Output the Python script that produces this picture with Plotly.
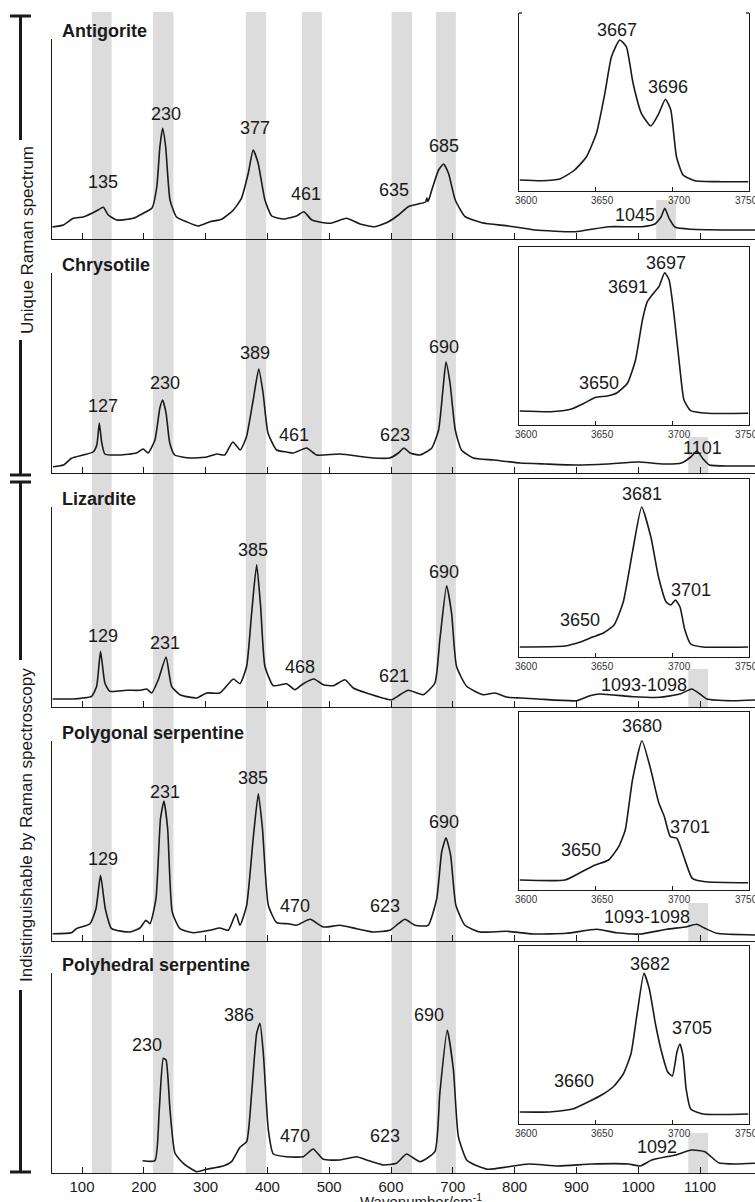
import plotly.graph_objects as go

FIG_W, FIG_H = 755, 1202

# ---------------- data ----------------
wavenumber_ticks = [100, 200, 300, 400, 500, 600, 700, 800, 900, 1000, 1100]
inset_ticks = [3600, 3650, 3700, 3750]
band_ranges = [(116, 148), (215, 248), (365, 398), (456, 488), (601, 634), (673, 705)]

mineral_names = ["Antigorite", "Chrysotile", "Lizardite",
                 "Polygonal serpentine", "Polyhedral serpentine"]

# main spectra (wavenumber, relative intensity)
antigorite_wn = [52, 70, 86, 102, 116, 126, 134.5, 142.6, 156, 183, 199, 213, 221, 226, 230.5, 235.4,
                 242.4, 253, 269, 288, 307, 326, 345, 358, 369, 377, 385, 396, 407, 426, 447, 459,
                 472, 501, 528, 550, 574, 596, 612, 628, 644, 656, 658, 660, 666, 677, 685, 693, 704,
                 720, 747, 790, 833, 898, 952, 1006, 1027, 1037, 1043, 1050, 1060, 1087, 1140, 1189]
antigorite_int = [12, 14, 20.7, 22, 25.7, 29, 31.7, 24, 19, 20.7, 25.7, 30.7, 52, 92, 110.7, 92,
                  39, 22, 17.3, 13, 17.3, 19.7, 29, 40.7, 65.7, 89, 75.7, 39, 23, 20, 23, 27.3,
                  19, 15.7, 20.7, 15, 12.3, 17.3, 24, 32.3, 35, 37, 41, 37.5, 49, 69, 75, 65.7, 39,
                  22.3, 16.3, 13, 9, 7.3, 12.3, 12.3, 15, 22, 30.7, 20.7, 11.7, 9.7, 9, 9]

chrysotile_wn = [53, 70, 83, 102, 118, 124, 128, 132, 137, 161, 188, 199, 207, 218, 226, 230.5, 236,
                 242, 250, 275, 302, 318, 331, 344, 356, 366, 377, 386, 393, 401, 415, 431, 442, 463.5,
                 480, 517, 571, 598, 612, 621, 631, 647, 666, 677, 684, 689, 695.5, 704, 714, 733, 766,
                 809, 850, 900, 950, 1000, 1040, 1070, 1085, 1095, 1105, 1115, 1150, 1189]
chrysotile_int = [6.3, 8, 14.7, 18, 21, 28, 50, 30, 19, 18, 20, 24, 20, 33, 65, 73, 60,
                  30, 18, 15, 16, 19, 18, 31, 23, 36, 73, 104, 80, 40, 23, 21, 20, 25,
                  18, 19, 15, 15, 20, 25, 20, 18, 25, 43, 83, 111, 90, 43, 23, 15, 13,
                  10, 9, 8, 9, 11, 9, 10, 16, 22, 14, 8, 7, 7]

lizardite_wn = [52.5, 86, 102, 115.6, 123.7, 130, 137, 145, 172, 194, 204.6, 212.7, 223.5, 236, 245,
                258.5, 285.5, 301.7, 323, 345, 355.6, 366.4, 374.5, 382.6, 389, 396, 409.6, 431, 444.6,
                458, 475.4, 490.5, 506.7, 525.5, 539, 560.6, 601, 614.5, 628, 652, 671, 679, 690, 698,
                706, 722.4, 749.4, 768, 787, 809, 838, 900.5, 922, 938, 992, 1035, 1067.7, 1086.6,
                1100, 1111, 1154, 1189]
lizardite_int = [8, 8, 9, 10.7, 20.7, 55.7, 24, 15.7, 16.7, 16.7, 18, 14, 27.3, 50, 20.7,
                 12.3, 9, 14, 14, 28, 23.3, 40.7, 94, 142.3, 100.7, 40.7, 21.3, 23.3, 17.3,
                 23.3, 28, 22.3, 21.3, 27.3, 19, 14, 7.3, 12.3, 16.7, 12.3, 24, 67, 121.3, 94,
                 40.7, 20.7, 12.3, 14, 10, 9, 8, 6.3, 11.3, 13, 10.3, 9.7, 13, 18,
                 13, 8, 6.3, 7]

polygonal_wn = [52.5, 83, 91, 113, 122.6, 130, 137.7, 148, 177.6, 193.8, 203.5, 210, 219.7, 227, 232.6,
                238.6, 246, 258.5, 280, 307, 323, 336.8, 349, 355.6, 366.4, 377, 385.3, 392, 401.5,
                415, 434, 447, 469, 490.5, 517.5, 544.4, 571.4, 598, 612, 622.6, 638.8, 660, 674, 682,
                689, 696.5, 705, 719.7, 744, 787, 830, 884, 933, 965, 1003, 1046, 1078.5, 1094.7,
                1108, 1127, 1189]
polygonal_int = [7.3, 8.3, 12.3, 17.3, 32.3, 65.7, 32.3, 12.3, 9, 13, 20.7, 17.3, 42.3, 122.3, 140,
                 112.3, 29, 12.3, 8.3, 10.7, 13, 10.7, 27.3, 15.7, 35.7, 102.3, 147.3, 112.3, 35.7,
                 18.3, 17.3, 15.7, 21.7, 14, 15.7, 12.3, 9, 10.7, 17.3, 21.7, 15.7, 15.7, 42.3, 89,
                 103.3, 85.7, 35.7, 15.7, 9, 9.7, 7, 7.7, 11.7, 8.3, 7, 11.7, 14.3, 16.7,
                 12.7, 7.7, 6]

polyhedral_wn = [198, 218, 225, 231.6, 236, 242.4, 250.5, 264, 285.5, 301.7, 328.7, 342, 355.6, 366.4,
                 374.5, 382.6, 388, 393.4, 401.5, 409.6, 431, 458, 474, 490.5, 517.5, 544.4, 560.6,
                 587.6, 609, 625, 647, 671, 679, 691, 701, 709, 722.4, 736, 757.5, 790, 822, 871, 925,
                 984, 1003, 1022, 1060, 1086.5, 1108, 1130, 1157, 1189]
polyhedral_int = [12.3, 12.3, 63, 114.7, 113, 63, 19.7, 9.7, 1.3, 3.7, 7, 11.3, 25.7, 31.3,
                  79.7, 139.7, 149.7, 119.7, 43, 19, 16.3, 16.3, 24, 13.7, 13, 16.3, 13,
                  8, 9.7, 19, 11.3, 21.3, 79.7, 143, 103, 36.3, 13, 8, 3.7, 6.3, 9, 7, 9,
                  9, 7, 13, 18, 23, 21.3, 10.3, 9, 9.7]

# OH-stretching insets (wavenumber, relative intensity)
antigorite_oh_wn = [3600.5, 3614.6, 3626.6, 3636.3, 3644, 3650.5, 3656, 3660.3, 3665.7, 3670, 3674.4,
                    3679.8, 3686, 3690.7, 3695.5, 3699, 3702.7, 3707, 3714.6, 3732, 3749.5]
antigorite_oh_int = [11, 10.3, 12, 21, 34.3, 57.7, 97.7, 134.3, 151, 144.3, 107.7,
                     77.7, 65, 76, 91.7, 81, 34.3, 16, 10.3, 9.3, 9.3]

chrysotile_oh_wn = [3600.5, 3620.7, 3633.7, 3642.4, 3650, 3657.6, 3664, 3670.7, 3676, 3680.5, 3683.7,
                    3688, 3691.3, 3695, 3697.9, 3701, 3704.8, 3707.6, 3712, 3722.9, 3749.5]
chrysotile_oh_int = [14, 13.3, 15.7, 21.7, 27.7, 29, 32.3, 41.7, 65, 105, 123.3,
                     132.3, 138.3, 152.3, 145, 111.7, 58.3, 25, 14.3, 11.7, 11.7]

lizardite_oh_wn = [3600.5, 3630, 3640, 3648, 3655, 3662, 3668, 3674, 3680, 3686, 3691, 3696, 3699,
                   3702, 3705, 3708, 3712, 3720, 3749.5]
lizardite_oh_int = [10, 11, 15, 20, 24, 32, 55, 105, 150, 120, 80, 55, 52,
                    57, 50, 28, 13, 10, 10]

polygonal_oh_wn = [3600.5, 3630, 3641, 3649.7, 3658.4, 3665, 3669.3, 3674, 3680.2, 3686, 3691, 3694.8,
                   3698.7, 3703, 3707.5, 3713, 3721.6, 3749.5]
polygonal_oh_int = [10, 10, 18.3, 25, 30, 43.3, 60, 110, 149.3, 120, 88, 73.3,
                    53.3, 51.7, 33.3, 11.7, 8.3, 7.3]

polyhedral_oh_wn = [3600.5, 3620, 3635, 3645, 3655, 3662, 3668, 3673, 3677, 3681.5, 3685, 3689, 3693,
                    3697, 3700, 3703, 3705, 3707, 3709, 3712, 3720, 3749.5]
polyhedral_oh_int = [12, 12, 15, 22, 30, 38, 50, 70, 110, 150.7, 135, 100, 72,
                     52, 48, 72, 80, 68, 35, 15, 10, 10]

# peak labels: (text, wavenumber position, height)
antigorite_labels = [("135", 133.7, 56.7), ("230", 235.6, 125), ("377", 380, 111), ("461", 463, 45),
                     ("635", 605, 49), ("685", 685.8, 93.3), ("1045", 995, 24)]
chrysotile_labels = [("127", 133.7, 66.7), ("230", 234.8, 89.7), ("389", 380.5, 119.7),
                     ("461", 443.6, 38.3), ("623", 606, 38.3), ("690", 685.5, 126.3), ("1101", 1104, 25)]
lizardite_labels = [("129", 133.4, 70.7), ("231", 234.8, 64), ("385", 376.4, 156.7), ("468", 452.7, 40),
                    ("621", 605.4, 30.7), ("690", 685.5, 135), ("1093-1098", 1009, 22.3)]
polygonal_labels = [("129", 133.4, 81.7), ("231", 234.8, 149), ("385", 376.4, 162.7), ("470", 444, 35),
                    ("623", 590.8, 35), ("690", 685.5, 119), ("1093-1098", 1013.8, 24.3)]
polyhedral_labels = [("230", 205.4, 128), ("386", 354.8, 158), ("470", 444, 36.7), ("623", 590.8, 36.7),
                     ("690", 661.7, 158.3), ("1092", 1031, 25.7)]

antigorite_oh_labels = [("3667", 3663.8, 161), ("3696", 3697.2, 104.3)]
chrysotile_oh_labels = [("3697", 3696, 161.7), ("3691", 3670.9, 138.3), ("3650", 3652.4, 42)]
lizardite_oh_labels = [("3681", 3680, 163), ("3701", 3712, 67), ("3650", 3640, 37)]
polygonal_oh_labels = [("3680", 3679.9, 164.3), ("3701", 3711.7, 62.7), ("3650", 3640.6, 40)]
polyhedral_oh_labels = [("3682", 3685.3, 160), ("3705", 3713, 96), ("3660", 3636, 43)]

# extra highlighted band near 1045-1101 cm-1 for each mineral: (start, end, height)
extra_bands = [(1029, 1061, 39), (1081, 1113, 36), (1081, 1113, 38), (1081, 1113, 38), (1081, 1113, 40)]

spectra = [(antigorite_wn, antigorite_int), (chrysotile_wn, chrysotile_int), (lizardite_wn, lizardite_int),
           (polygonal_wn, polygonal_int), (polyhedral_wn, polyhedral_int)]
oh_spectra = [(antigorite_oh_wn, antigorite_oh_int), (chrysotile_oh_wn, chrysotile_oh_int),
              (lizardite_oh_wn, lizardite_oh_int), (polygonal_oh_wn, polygonal_oh_int),
              (polyhedral_oh_wn, polyhedral_oh_int)]
peak_labels = [antigorite_labels, chrysotile_labels, lizardite_labels, polygonal_labels, polyhedral_labels]
oh_labels = [antigorite_oh_labels, chrysotile_oh_labels, lizardite_oh_labels, polygonal_oh_labels,
             polyhedral_oh_labels]

# ---------------- layout geometry (pixels) ----------------
panel_base_px = [239, 473, 707, 941, 1173]
panel_h_px = 200
inset_bottom_px = [191, 425, 657, 890, 1124]
inset_h_px = 178
inset_left_px, inset_right_px = 519, 749
inset_label_shift = [7, 7, 7, -3]
axis_left_px = 51.7
x_px_per_unit = 0.618
x_px_offset = 20.2


def xp(px):
    return px / FIG_W


def yp(px):
    return 1 - px / FIG_H


INK = "#1a1a1a"
FONT = "Liberation Sans, Arial, Helvetica, sans-serif"
xmin = (axis_left_px - x_px_offset) / x_px_per_unit
xmax = (FIG_W - x_px_offset) / x_px_per_unit

fig = go.Figure()
layout = dict(width=FIG_W, height=FIG_H, margin=dict(l=0, r=0, t=0, b=0),
              paper_bgcolor="white", plot_bgcolor="rgba(0,0,0,0)", showlegend=False,
              font=dict(family=FONT, color=INK))
shapes = []
annotations = []

for k in range(5):
    i = k + 1
    sx = "" if i == 1 else str(i)
    b = panel_base_px[k]
    layout["xaxis" + sx] = dict(domain=[xp(axis_left_px), 1.0], range=[xmin, xmax], anchor="y" + sx,
                                showline=True, linecolor=INK, linewidth=1.3, ticks="inside", ticklen=6,
                                tickwidth=1.3, tickcolor=INK, tickvals=wavenumber_ticks,
                                showticklabels=(k == 4), tickfont=dict(size=15, color=INK),
                                showgrid=False, zeroline=False, fixedrange=True)
    layout["yaxis" + sx] = dict(domain=[yp(b), yp(b - panel_h_px)], range=[0, panel_h_px], anchor="x" + sx,
                                showline=True, linecolor=INK, linewidth=1.3, ticks="", showticklabels=False,
                                showgrid=False, zeroline=False, fixedrange=True)
    wn, it = spectra[k]
    fig.add_trace(go.Scatter(x=wn, y=it, mode="lines", xaxis="x" + sx, yaxis="y" + sx,
                             line=dict(color=INK, width=1.6, shape="spline", smoothing=0.5),
                             hoverinfo="skip"))
    for (txt, xv, yv) in peak_labels[k]:
        annotations.append(dict(text=txt, x=xv, y=yv, xref="x" + sx, yref="y" + sx, showarrow=False,
                                xanchor="center", yanchor="middle", font=dict(size=18, color=INK)))
    annotations.append(dict(text="<b>%s</b>" % mineral_names[k], x=xp(60), y=yp(b - 208), xref="paper",
                            yref="paper", showarrow=False, xanchor="left", yanchor="middle",
                            font=dict(size=18, color=INK)))
    e0, e1, eh = extra_bands[k]
    shapes.append(dict(type="rect", xref="x" + sx, yref="y" + sx, x0=e0, x1=e1, y0=0, y1=eh,
                       fillcolor="#dcdcdc", line=dict(width=0), layer="below"))

    # inset
    j = k + 6
    sj = str(j)
    ib = inset_bottom_px[k]
    layout["xaxis" + sj] = dict(domain=[xp(inset_left_px), xp(inset_right_px)], range=[3600, 3750],
                                anchor="y" + sj, showline=True, linecolor=INK, linewidth=1.3,
                                mirror=(k != 0), ticks="inside", ticklen=4, tickwidth=1, tickcolor=INK,
                                tickvals=inset_ticks, showticklabels=False,
                                showgrid=False, zeroline=False, fixedrange=True)
    layout["yaxis" + sj] = dict(domain=[yp(ib), yp(ib - inset_h_px)], range=[0, inset_h_px],
                                anchor="x" + sj, showline=True, linecolor=INK, linewidth=1.3, mirror=True,
                                ticks="", showticklabels=False, showgrid=False, zeroline=False,
                                fixedrange=True)
    for tv, sh in zip(inset_ticks, inset_label_shift):
        annotations.append(dict(text=str(tv), x=tv, xref="x" + sj, y=yp(ib + 2), yref="paper",
                                xshift=sh, showarrow=False, xanchor="center", yanchor="top",
                                font=dict(size=10, color="#333333")))
    ow, oi = oh_spectra[k]
    fig.add_trace(go.Scatter(x=ow, y=oi, mode="lines", xaxis="x" + sj, yaxis="y" + sj,
                             line=dict(color=INK, width=1.6, shape="spline", smoothing=0.5),
                             hoverinfo="skip"))
    for (txt, xv, yv) in oh_labels[k]:
        annotations.append(dict(text=txt, x=xv, y=yv, xref="x" + sj, yref="y" + sj, showarrow=False,
                                xanchor="center", yanchor="middle", font=dict(size=18, color=INK)))

# open-top corners of the first inset
top0 = inset_bottom_px[0] - inset_h_px
for (a, c) in [(inset_left_px, inset_left_px + 3), (inset_right_px - 3, inset_right_px)]:
    shapes.append(dict(type="line", xref="paper", yref="paper", x0=xp(a), x1=xp(c), y0=yp(top0), y1=yp(top0),
                       line=dict(color=INK, width=1.3)))

# grey vertical bands through all panels
for (a, c) in band_ranges:
    shapes.append(dict(type="rect", xref="x", yref="paper", x0=a, x1=c, y0=yp(panel_base_px[-1]), y1=yp(12),
                       fillcolor="#dcdcdc", line=dict(width=0), layer="below"))

# left brackets
BX = 20.5
TX = 27
for (y0, y1) in [(16, 140), (340, 475), (482, 660), (990, 1172)]:
    shapes.append(dict(type="line", xref="paper", yref="paper", x0=xp(BX), x1=xp(BX), y0=yp(y0), y1=yp(y1),
                       line=dict(color=INK, width=3)))
for yy in [16, 475, 482, 1172]:
    shapes.append(dict(type="line", xref="paper", yref="paper", x0=xp(10), x1=xp(31), y0=yp(yy), y1=yp(yy),
                       line=dict(color=INK, width=3)))
annotations.append(dict(text="Unique Raman spectrum", x=xp(TX), y=yp(240), xref="paper", yref="paper",
                        showarrow=False, textangle=-90, xanchor="center", yanchor="middle",
                        font=dict(size=17, color=INK)))
annotations.append(dict(text="Indistinguishable by Raman spectroscopy", x=xp(TX), y=yp(825), xref="paper",
                        yref="paper", showarrow=False, textangle=-90, xanchor="center", yanchor="middle",
                        font=dict(size=17, color=INK)))
annotations.append(dict(text="Wavenumber/cm<sup>-1</sup>", x=xp(421), y=yp(1200), xref="paper", yref="paper",
                        showarrow=False, xanchor="center", yanchor="middle", font=dict(size=15, color=INK)))

layout["shapes"] = shapes
layout["annotations"] = annotations
fig.update_layout(**layout)
fig.write_html("out.html", config={"displayModeBar": False},
               post_script="document.body.style.margin='0';document.body.style.padding='0';")
